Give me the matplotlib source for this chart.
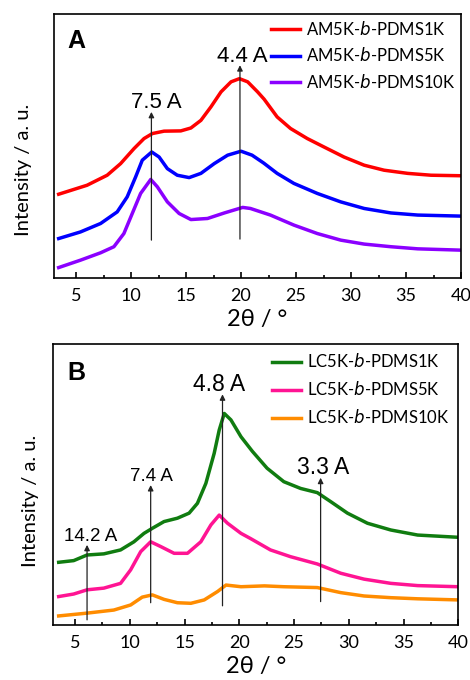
import matplotlib
matplotlib.use('Agg')
import matplotlib.pyplot as plt
from matplotlib.ticker import MultipleLocator

plt.rcParams['font.family'] = ['Lato', 'DejaVu Sans']

# panel A: AM5K-b-PDMS series (offset intensities, a.u.)
tt_am1 = [3.42, 6.0, 7.83, 9.05, 10.27, 11.18, 11.94, 13.0, 14.52, 15.44, 16.35, 17.26, 18.18, 19.09,
          19.85, 20.6, 21.5, 22.1, 23.28, 24.5, 26.02, 27.54, 29.36, 31.19, 33.0, 35.15, 37.27, 40.0]
am1 = [31.8, 35.2, 39.0, 43.4, 49.1, 52.9, 54.8, 55.7, 55.8, 56.9, 59.8, 64.9, 70.6, 74.4,
       75.6, 74.4, 70.6, 67.8, 61.1, 56.7, 52.9, 49.7, 45.9, 42.8, 40.9, 39.7, 39.0, 38.8]

tt_am5 = [3.42, 5.4, 7.23, 8.74, 9.65, 10.42, 11.02, 11.88, 12.55, 13.3, 14.2, 15.28, 16.35, 17.56,
          18.78, 20.0, 21.0, 22.06, 23.28, 24.8, 26.93, 29.06, 31.19, 33.62, 36.06, 40.0]
am5 = [15.0, 17.5, 20.7, 25.1, 30.8, 38.4, 44.7, 47.8, 45.9, 41.5, 39.0, 38.1, 39.7, 43.4,
       46.6, 48.1, 46.6, 43.6, 39.7, 35.9, 32.1, 28.9, 26.4, 24.7, 23.9, 23.5]

tt_am10 = [3.42, 5.4, 7.23, 8.44, 9.35, 10.11, 10.87, 11.79, 12.39, 13.3, 14.37, 15.44, 16.95, 18.48,
           20.15, 20.85, 22.67, 24.8, 26.93, 29.06, 31.19, 33.62, 36.06, 40.0]
am10 = [4.0, 6.8, 9.6, 11.9, 16.9, 24.5, 32.1, 37.4, 34.6, 28.9, 24.5, 22.2, 22.6, 24.7,
        26.8, 26.4, 23.9, 20.1, 16.9, 14.4, 12.9, 11.9, 11.1, 10.6]

# panel B: LC5K-b-PDMS series
tt_lc1 = [3.51, 4.88, 6.1, 7.63, 9.16, 10.38, 11.3, 12.06, 13.13, 14.35, 15.42, 16.18, 16.95, 17.71,
          18.17, 18.63, 19.24, 20.16, 21.2, 22.54, 24.07, 25.6, 27.13, 28.35, 29.88, 31.71, 33.84,
          36.29, 40.0]
lc1 = [22.3, 22.9, 24.9, 25.3, 26.7, 29.6, 32.6, 34.4, 36.8, 38.0, 39.8, 43.3, 50.4, 61.1,
       69.4, 75.3, 73.0, 67.0, 61.8, 55.8, 51.0, 48.6, 47.1, 43.9, 39.8, 36.2, 33.8,
       32.0, 31.2]

tt_lc5 = [3.51, 4.88, 6.1, 7.63, 9.16, 10.08, 11.0, 11.91, 12.83, 14.05, 15.27, 16.49, 17.41, 18.17,
          18.93, 20.16, 21.01, 22.85, 24.68, 27.13, 29.27, 31.4, 33.84, 36.29, 40.0]
lc5 = [10.1, 11.0, 12.5, 13.1, 14.8, 19.6, 26.1, 29.6, 27.9, 25.5, 25.5, 29.6, 35.6, 39.1,
       36.2, 32.6, 30.8, 26.7, 24.3, 21.7, 18.4, 16.3, 14.8, 14.0, 13.6]

tt_lc10 = [3.51, 6.1, 8.55, 10.08, 11.14, 12.06, 13.13, 14.35, 15.58, 16.8, 18.02, 18.79, 20.16, 22.3,
           24.07, 27.13, 29.27, 31.4, 33.84, 36.29, 40.0]
lc10 = [3.2, 4.2, 5.3, 7.1, 9.9, 10.7, 9.1, 7.9, 7.7, 8.9, 11.9, 14.2, 13.6, 13.9,
        13.6, 13.3, 11.5, 10.3, 9.7, 9.3, 8.9]

# d-spacing markers: (2theta, arrow tail, arrow head, label, label x, font size)
peaks_a = [(11.85, 14.4, 63.0, '7.5 A', 12.3, 16), (19.9, 14.8, 80.7, '4.4 A', 20.1, 16)]
peaks_b = [(6.1, 1.8, 28.5, '14.2 A', 6.45, 13.5), (11.91, 7.9, 49.8, '7.4 A', 12.0, 13.5),
           (18.47, 6.8, 82.1, '4.8 A', 18.2, 16.5), (27.43, 8.3, 52.4, '3.3 A', 27.7, 16.5)]

fig = plt.figure(figsize=(4.7, 6.8), dpi=100)
axA = fig.add_axes([0.115, 0.591, 0.866, 0.388])
axB = fig.add_axes([0.113, 0.081, 0.862, 0.413])


def style(ax, ylab_pos):
    ax.set_xlim(3, 40)
    ax.set_ylim(0, 100)
    ax.set_yticks([])
    ax.xaxis.set_major_locator(MultipleLocator(5))
    ax.xaxis.set_minor_locator(MultipleLocator(2.5))
    ax.tick_params(axis='x', which='major', direction='in', length=4, width=1.2, labelsize=13, pad=7)
    ax.tick_params(axis='x', which='minor', direction='in', length=2, width=1.2)
    for s in ax.spines.values():
        s.set_linewidth(1.2)
    ax.set_xlabel('2θ / °', fontsize=17, labelpad=4)
    ax.set_ylabel('Intensity / a. u.', fontsize=14.5, va='center', rotation_mode='default')
    ax.yaxis.set_label_coords(*ylab_pos)


def markers(ax, peaks):
    for x, y0, y1, lab, xl, fs in peaks:
        ax.annotate('', xy=(x, y1), xytext=(x, y0),
                    arrowprops=dict(arrowstyle='-|>', color='#222222', lw=0.9,
                                    mutation_scale=8, shrinkA=0, shrinkB=0))
        ax.text(xl, y1 + 1.3, lab, ha='center', va='baseline', fontsize=fs,
                family=['Liberation Sans', 'DejaVu Sans'])


legend_kw = dict(loc='upper right', frameon=False, fontsize=12, handlelength=1.75,
                 handletextpad=0.35, labelspacing=0.5, borderaxespad=0.1, borderpad=0.25)

axA.plot(tt_am1, am1, color='#ff0000', lw=2.5, label='AM5K-$\\it{b}$-PDMS1K')
axA.plot(tt_am5, am5, color='#0000ff', lw=2.5, label='AM5K-$\\it{b}$-PDMS5K')
axA.plot(tt_am10, am10, color='#8b00ff', lw=2.5, label='AM5K-$\\it{b}$-PDMS10K')
style(axA, (-0.074, 0.41))
markers(axA, peaks_a)
axA.text(0.032, 0.945, 'A', transform=axA.transAxes, fontsize=18, fontweight='bold',
         va='top', family=['Liberation Sans', 'DejaVu Sans'])
axA.legend(**legend_kw)

axB.plot(tt_lc1, lc1, color='#107c10', lw=2.5, label='LC5K-$\\it{b}$-PDMS1K')
axB.plot(tt_lc5, lc5, color='#ff1493', lw=2.5, label='LC5K-$\\it{b}$-PDMS5K')
axB.plot(tt_lc10, lc10, color='#ff8c00', lw=2.5, label='LC5K-$\\it{b}$-PDMS10K')
style(axB, (-0.057, 0.44))
markers(axB, peaks_b)
axB.text(0.035, 0.94, 'B', transform=axB.transAxes, fontsize=18, fontweight='bold',
         va='top', family=['Liberation Sans', 'DejaVu Sans'])
axB.legend(**dict(legend_kw, labelspacing=0.6, borderpad=0.4))

fig.savefig('out.png', dpi=100)
